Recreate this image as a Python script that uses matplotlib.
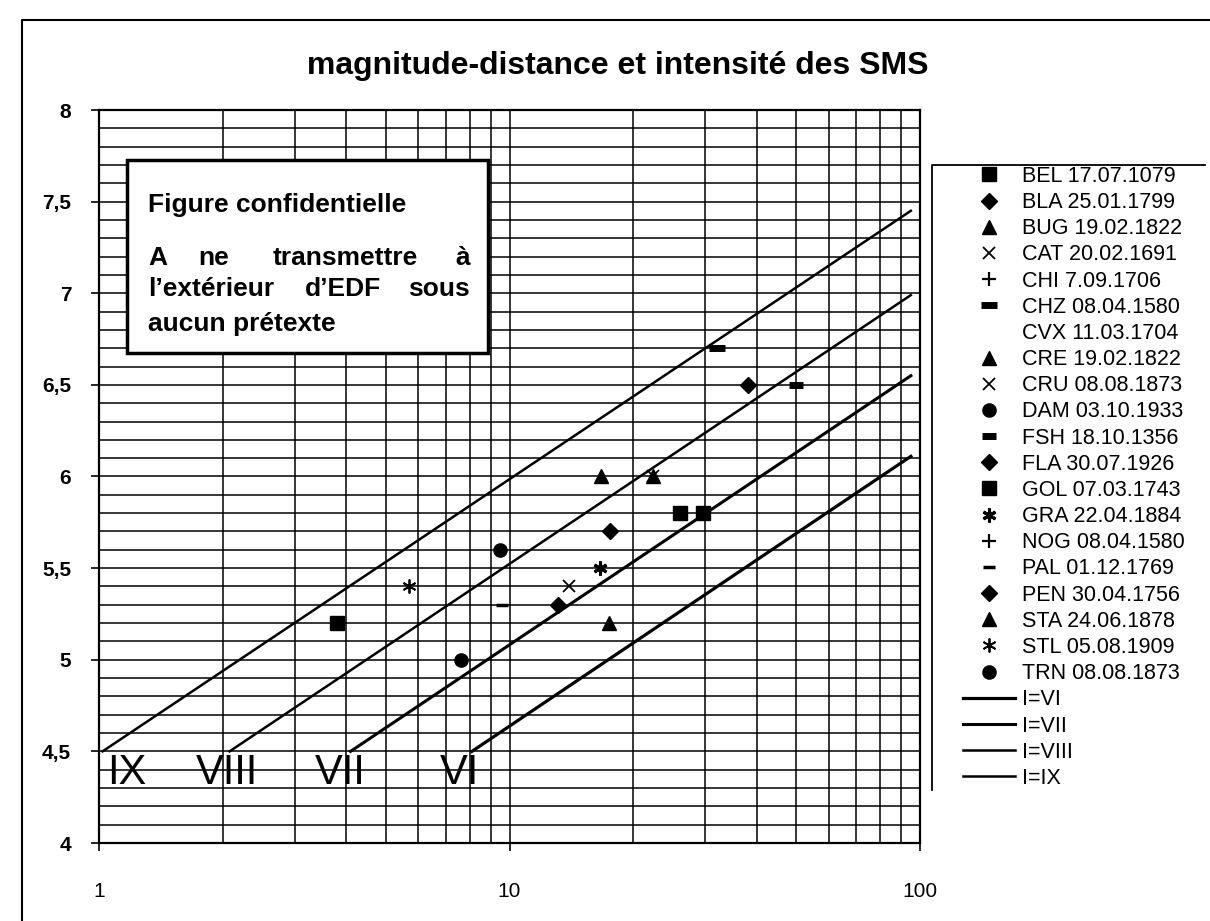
import matplotlib
matplotlib.use('Agg')
import matplotlib.pyplot as plt
from matplotlib.lines import Line2D
from matplotlib.patches import Rectangle
from matplotlib.ticker import MultipleLocator, LogLocator, NullFormatter, FixedLocator

plt.rcParams['font.family'] = ['Liberation Sans', 'DejaVu Sans']

# séismes : étiquette, distance (km), magnitude
series_labels = ['BEL 17.07.1079', 'BLA 25.01.1799', 'BUG 19.02.1822', 'CAT 20.02.1691',
                 'CHI 7.09.1706', 'CHZ 08.04.1580', 'CVX 11.03.1704', 'CRE 19.02.1822',
                 'CRU 08.08.1873', 'DAM 03.10.1933', 'FSH 18.10.1356', 'FLA 30.07.1926',
                 'GOL 07.03.1743', 'GRA 22.04.1884', 'NOG 08.04.1580', 'PAL 01.12.1769',
                 'PEN 30.04.1756', 'STA 24.06.1878', 'STL 05.08.1909', 'TRN 08.08.1873']
series_dist = [[3.8], [38], [16.7], [14.0], [], [32], [], [22.4], [22.4], [7.6],
               [50], [17.6], [26, 29.6], [16.6], [], [9.6], [13.1], [17.5], [5.7], [9.5]]
series_mag = [[5.2], [6.5], [6.0], [5.4], [], [6.7], [], [6.0], [6.0], [5.0],
              [6.5], [5.7], [5.8, 5.8], [5.5], [], [5.3], [5.3], [5.2], [5.4], [5.6]]

# droites d'intensité
intensity_labels = ['I=VI', 'I=VII', 'I=VIII', 'I=IX']
line_dist = [[8.1, 95], [4.1, 95], [2.08, 95], [1.02, 95]]
line_mag = [[4.5, 6.11], [4.5, 6.55], [4.5, 6.99], [4.5, 7.45]]
roman = ['VI', 'VII', 'VIII', 'IX']
roman_dist = [7.57, 3.87, 2.05, 1.17]
roman_mag = 4.38

yticks = [4, 4.5, 5, 5.5, 6, 6.5, 7, 7.5, 8]
ytick_labels = ['4', '4,5', '5', '5,5', '6', '6,5', '7', '7,5', '8']
xticks = [1, 10, 100]

# style des marqueurs (forme, taille, épaisseur)
styles = [('s', 10, 1), ('D', 8.5, 1), ('^', 10.5, 1), ('x', 8, 1.3),
          ('+', 10, 1.6), ('_', 11, 5), ('None', 8, 1), ('^', 10.5, 1),
          ('x', 8, 1.3), ('o', 9.5, 1), ('_', 10, 5), ('D', 8.5, 1),
          ('s', 10, 1), ((6, 2, 0), 10, 2.2), ('+', 10, 1.6), ('_', 8, 2.5),
          ('D', 8.5, 1), ('^', 10.5, 1), ((6, 2, 0), 10, 1.3), ('o', 9.5, 1)]
line_widths = [2.3, 2.2, 1.8, 1.8]

W, H = 1210, 921
def fx(px):
    return px / W
def fy(py):
    return 1 - py / H

fig = plt.figure(figsize=(12.1, 9.21), dpi=100)
ax = fig.add_axes([fx(99), fy(843), (920 - 99) / W, (843 - 110) / H])

handles = []
for lab, d, m, (mk, ms, mew) in zip(series_labels, series_dist, series_mag, styles):
    h, = ax.plot(d, m, linestyle='none', marker=mk, markersize=ms, markeredgewidth=mew,
                 color='black', label=lab, zorder=4)
    handles.append(h)

for lab, d, m, lw in zip(intensity_labels, line_dist, line_mag, line_widths):
    h, = ax.plot(d, m, color='black', lw=lw, label=lab, zorder=3)
    handles.append(h)

for r, d in zip(roman, roman_dist):
    ax.text(d, roman_mag, r, fontsize=30, ha='center', va='center', zorder=3)

ax.set_xscale('log')
ax.set_xlim(1, 100)
ax.set_ylim(4, 8)
ax.xaxis.set_major_locator(FixedLocator(xticks))
ax.set_xticklabels(['1', '10', '100'])
ax.xaxis.set_minor_locator(LogLocator(base=10, subs=range(2, 10)))
ax.xaxis.set_minor_formatter(NullFormatter())
ax.set_yticks(yticks)
ax.set_yticklabels(ytick_labels, fontweight='bold')
ax.yaxis.set_minor_locator(MultipleLocator(0.1))
ax.tick_params(axis='both', which='major', direction='out', length=6, width=1.2, labelsize=15)
ax.tick_params(axis='x', which='major', pad=22)
ax.tick_params(axis='y', which='major', pad=14)
ax.tick_params(which='minor', length=0)
ax.grid(True, which='both', color='black', lw=1.1)
for s in ax.spines.values():
    s.set_linewidth(1.6)

fig.text(fx(618), fy(66), 'magnitude-distance et intensité des SMS', fontsize=23,
         fontweight='bold', ha='center', va='center')

# cadre "Figure confidentielle"
fig.add_artist(Rectangle((fx(127), fy(353)), (488 - 127) / W, (353 - 160) / H,
                         transform=fig.transFigure, facecolor='white', edgecolor='black',
                         lw=2.5, zorder=2))
kw = dict(fontsize=19, fontweight='bold', va='center', zorder=3)
fig.text(fx(148), fy(205), 'Figure confidentielle', ha='left', **kw)
fig.text(fx(148), fy(258), 'A', ha='left', **kw)
fig.text(fx(214), fy(258), 'ne', ha='center', **kw)
fig.text(fx(345), fy(258), 'transmettre', ha='center', **kw)
fig.text(fx(470), fy(258), 'à', ha='right', **kw)
fig.text(fx(148), fy(289), 'l\u2019extérieur', ha='left', **kw)
fig.text(fx(343), fy(289), 'd\u2019EDF', ha='center', **kw)
fig.text(fx(470), fy(289), 'sous', ha='right', **kw)
fig.text(fx(148), fy(324), 'aucun prétexte', ha='left', **kw)

# cadre du graphique et de la légende
fig.add_artist(Line2D([fx(22), fx(22), fx(1210)], [fy(925), fy(20), fy(20)],
                      transform=fig.transFigure, color='black', lw=1.5))
fig.add_artist(Line2D([fx(932), fx(932), fx(1205)], [fy(790), fy(165), fy(165)],
                      transform=fig.transFigure, color='black', lw=1.3))

fig.legend(handles=handles, loc='upper left', bbox_to_anchor=(fx(963), fy(166)),
           frameon=False, fontsize=15.5, handlelength=2.42, handletextpad=0.33,
           labelspacing=0.24, borderpad=0, borderaxespad=0)

fig.savefig('out.png', dpi=100)
